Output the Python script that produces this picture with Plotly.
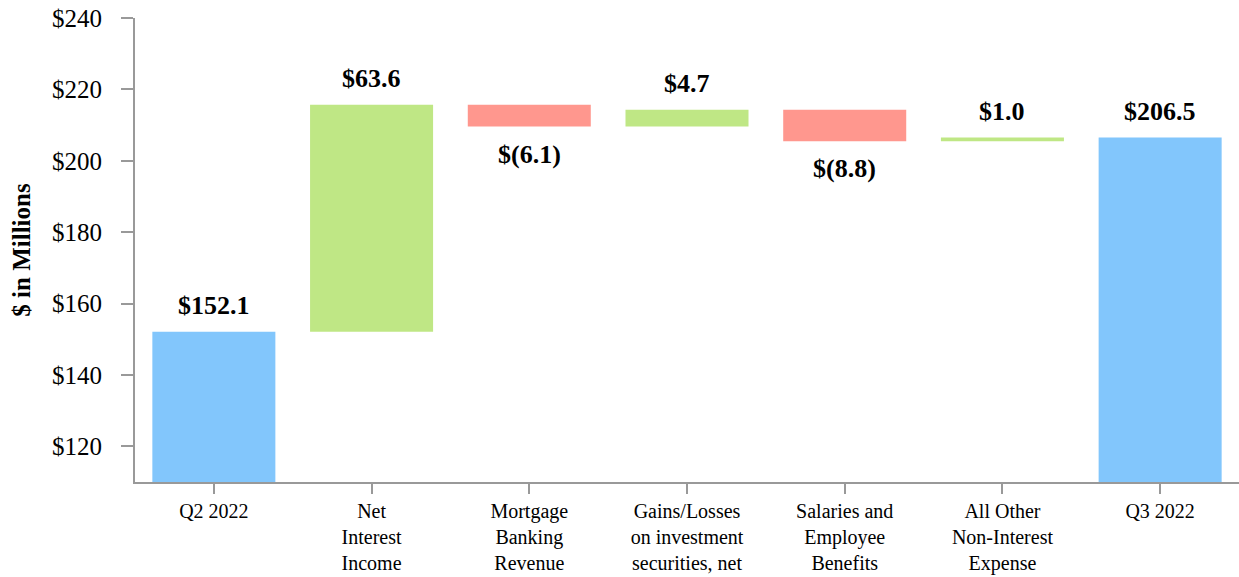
import plotly.graph_objects as go

categories = ["Q2 2022", "Net<br>Interest<br>Income", "Mortgage<br>Banking<br>Revenue",
              "Gains/Losses<br>on investment<br>securities, net", "Salaries and<br>Employee<br>Benefits",
              "All Other<br>Non-Interest<br>Expense", "Q3 2022"]
values = [152.1, 63.6, -6.1, 4.7, -8.8, 1.0, 206.5]
measures = ["absolute", "relative", "relative", "relative", "relative", "relative", "total"]
labels = ["$152.1", "$63.6", "$(6.1)", "$4.7", "$(8.8)", "$1.0", "$206.5"]
y_ticks = [120, 140, 160, 180, 200, 220, 240]

BLUE = "#82C6FC"
GREEN = "#BFE785"
RED = "#FF978E"
FONT = "Liberation Serif"

fig = go.Figure(go.Waterfall(
    x=categories, y=values, measure=measures,
    increasing=dict(marker=dict(color=GREEN)),
    decreasing=dict(marker=dict(color=RED)),
    totals=dict(marker=dict(color=BLUE)),
    connector=dict(visible=False),
    base=0,
    hoverinfo="skip",
))

# label annotations at bar ends
run = 0.0
for cat, v, m, lab in zip(categories, values, measures, labels):
    if m == "absolute":
        run = v
        up = True
    elif m == "total":
        up = True
    else:
        run += v
        up = v >= 0
    fig.add_annotation(x=cat, y=run, text="<b>" + lab + "</b>", showarrow=False,
                       yanchor="bottom" if up else "top",
                       yshift=10 if up else -11,
                       font=dict(family=FONT, size=26, color="black"))

fig.update_layout(
    width=1239, height=577,
    margin=dict(l=135, r=0, t=18, b=95),
    paper_bgcolor="white", plot_bgcolor="white",
    waterfallgap=0.22,
    showlegend=False,
    font=dict(family=FONT, color="black"),
    xaxis=dict(showline=True, linecolor="#999999", linewidth=2,
               ticks="outside", ticklen=10, tickcolor="#999999", tickwidth=2,
               tickfont=dict(family=FONT, size=20), showgrid=False),
    yaxis=dict(range=[110, 240], tickvals=y_ticks,
               ticktext=["$" + str(t) for t in y_ticks],
               showline=True, linecolor="#999999", linewidth=2,
               ticks="outside", ticklen=12, tickcolor="#999999", tickwidth=2,
               ticklabelstandoff=14,
               tickfont=dict(family=FONT, size=25), showgrid=False, zeroline=False,
               title=dict(text="<b>$ in Millions</b>", font=dict(family=FONT, size=25), standoff=14)),
)

fig.write_html("out.html", config={"displayModeBar": False},
               post_script="document.body.style.margin='0px';")
